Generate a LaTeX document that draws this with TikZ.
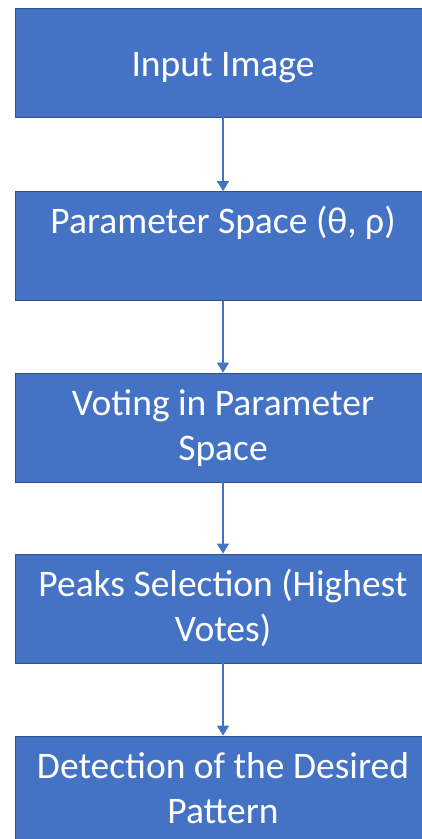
\documentclass[tikz,border=0pt]{standalone}
\usepackage{fontspec}
\setmainfont{Carlito}
\usetikzlibrary{arrows.meta}
\definecolor{boxblue}{HTML}{4472C4}
\definecolor{boxline}{HTML}{2F528F}
\tikzset{
  stepbox/.style={rectangle, fill=boxblue, draw=boxline, line width=0.8pt,
    minimum width=416pt, minimum height=109pt, inner sep=0pt},
  steptext/.style={text=white, align=center, inner sep=0pt,
    font=\fontsize{37.5}{45}\selectfont},
  flow/.style={draw=boxblue, line width=1.3pt, -{Triangle[width=12pt,length=10pt]}}
}
\begin{document}
\begin{tikzpicture}[x=1pt,y=-1pt]
\useasboundingbox (0,0) rectangle (422,839);
\clip (0,0) rectangle (422,839);
\fill[white] (0,0) rectangle (422,839);
\node[stepbox, label={[steptext, yshift=-5pt]center:\strut Input Image}] (b1) at (223,62.5) {};
\node[stepbox, label={[steptext, yshift=-1pt]center:\strut Parameter Space (θ, ρ)\\\strut}] (b2) at (223,246) {};
\node[stepbox, label={[steptext, yshift=-1.5pt]center:\strut Voting in Parameter\\\strut Space}] (b3) at (223,427.5) {};
\node[stepbox, label={[steptext, yshift=-1.5pt]center:\strut Peaks Selection (Highest\\\strut Votes)}] (b4) at (223,608.5) {};
\node[stepbox, label={[steptext, yshift=-1.5pt]center:\strut Detection of the Desired\\\strut Pattern}] (b5) at (223,790.5) {};
\draw[flow] (b1) -- (b2);
\draw[flow] (b2) -- (b3);
\draw[flow] (b3) -- (b4);
\draw[flow] (b4) -- (b5);
\end{tikzpicture}
\end{document}
